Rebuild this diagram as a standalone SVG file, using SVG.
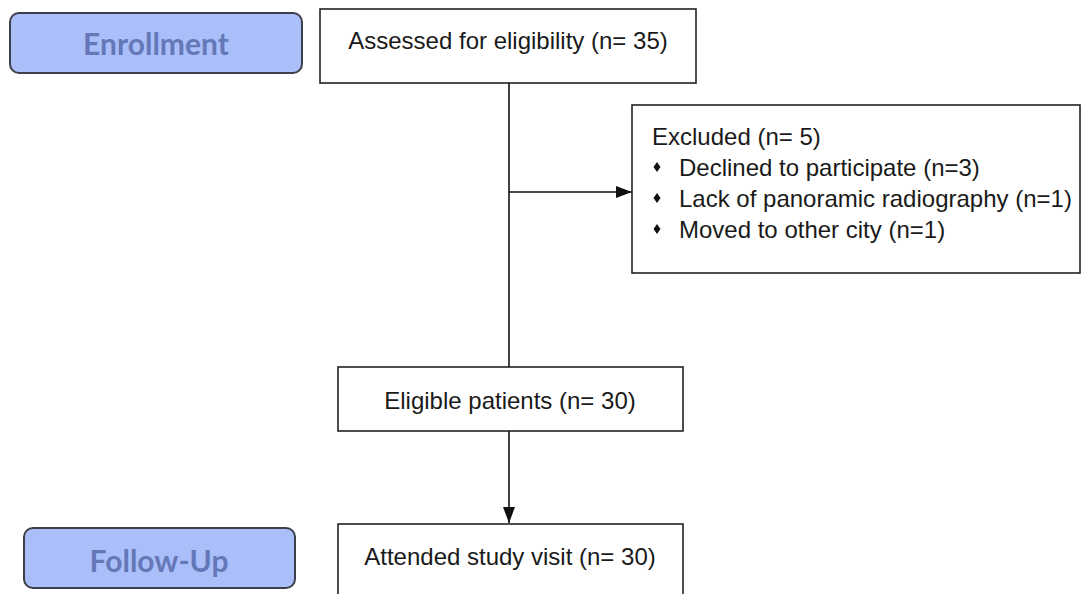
<svg xmlns="http://www.w3.org/2000/svg" width="1085" height="594" viewBox="0 0 1085 594">
<style>
.box{fill:#ffffff;stroke:#222222;stroke-width:1.6}
.stage{fill:#aabffa;stroke:#3a3f4a;stroke-width:2}
.t{font-family:"Liberation Sans",Arial,sans-serif;font-size:24px;fill:#1a1a1a}
.st{font-family:Lato,"Open Sans",sans-serif;font-weight:bold;font-size:30px;fill:#6478b8;text-anchor:middle}
.c{text-anchor:middle}
.line{stroke:#111111;stroke-width:1.6;fill:none}
</style>
<defs>
<marker id="arrL" viewBox="0 0 16 12" refX="16" refY="6" markerWidth="16" markerHeight="12" markerUnits="userSpaceOnUse" orient="auto">
<path d="M0,0 L16,6 L0,12 z" fill="#111111"/>
</marker>
</defs>
<rect width="1085" height="594" fill="#ffffff"/>
<g id="connectors">
<line class="line" x1="509" y1="83" x2="509" y2="367"/>
<line class="line" x1="509" y1="192" x2="632" y2="192" marker-end="url(#arrL)"/>
<line class="line" x1="509" y1="431" x2="509" y2="523" marker-end="url(#arrL)"/>
</g>
<g id="enrollment">
<rect class="stage" x="10" y="13" width="292" height="60" rx="9"/>
<text class="st" x="156" y="55">Enrollment</text>
</g>
<g id="followup">
<rect class="stage" x="24" y="528" width="271" height="60" rx="9"/>
<text class="st" x="159" y="572">Follow-Up</text>
</g>
<g id="assessed">
<rect class="box" x="320" y="9" width="376" height="74"/>
<text class="t c" x="508" y="49">Assessed for eligibility (n= 35)</text>
</g>
<g id="excluded">
<rect class="box" x="632" y="105" width="448" height="168"/>
<text class="t" x="652" y="145">Excluded  (n= 5)</text>
<path d="M657,162 l3.5,5 l-3.5,5 l-3.5,-5 z M657,193 l3.5,5 l-3.5,5 l-3.5,-5 z M657,224 l3.5,5 l-3.5,5 l-3.5,-5 z" fill="#111111"/>
<text class="t" x="679" y="176">Declined to participate (n=3)</text>
<text class="t" x="679" y="207">Lack of panoramic radiography (n=1)</text>
<text class="t" x="679" y="238">Moved to other city (n=1)</text>
</g>
<g id="eligible">
<rect class="box" x="338" y="367" width="345" height="64"/>
<text class="t c" x="510" y="409">Eligible patients (n= 30)</text>
</g>
<g id="attended">
<rect class="box" x="338" y="524" width="345" height="90"/>
<text class="t c" x="510" y="565">Attended study visit (n= 30)</text>
</g>
</svg>
